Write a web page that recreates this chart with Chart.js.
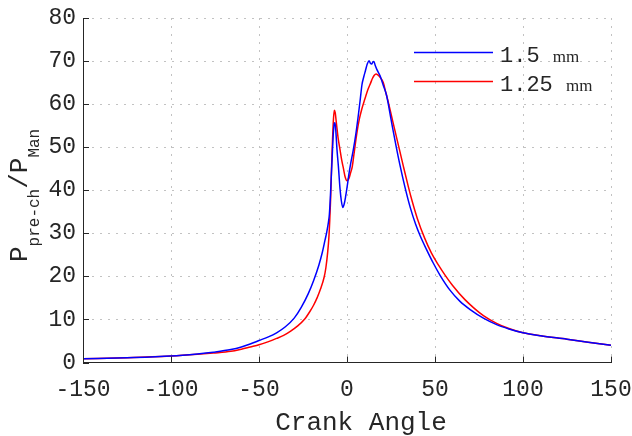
<!DOCTYPE html>
<html>
<head>
<meta charset="utf-8">
<script src="https://cdn.jsdelivr.net/npm/chart.js@4.4.1/dist/chart.umd.min.js"></script>
<style>
html, body { margin: 0; padding: 0; background: #fff; }
</style>
</head>
<body>
<canvas id="myChart" width="632" height="436"></canvas>
<script>
// crank angle / pressure ratio
const angle15 = [-150,-125,-100,-85,-76,-66,-60,-55,-50,-45,-40,-35,-30,-26,-22,-19,-16,-14,-12.5,-11.5,-10.5,-10,-9.5,-9,-8.5,-7.8,-7.2,-6.8,-6.3,-5.7,-4.9,-4,-3.2,-2.4,-1.6,-0.8,0,1,2,3.5,5,6.4,7.5,8.5,9.5,10.5,11.5,12.5,13.3,14,14.7,15.3,16,17,18.8,20.5,22.5,25,28,30,33,36,39,41.5,45,49,52.8,58.5,64.2,70,77.5,85,92,100,110,125,137,150]
const ratio15 = [0.85,1.1,1.5,2.0,2.4,3.0,3.6,4.3,5.1,5.9,6.9,8.3,10.3,12.8,16.0,19.0,22.6,25.6,28.4,30.3,32.7,34.5,38,42.5,47,53,55.5,55.7,53.5,49.5,45.6,40.5,37.5,36,36.8,38.5,40.6,43.5,46,49.2,53,57.3,61,64.5,66.3,67.8,69.3,70.1,69.5,69.3,69.8,69.9,69,68,66.6,64.5,62,56.5,50,46.0,40.6,35.9,32.1,29.5,26.4,23.1,20.3,16.8,14.2,12.3,10.3,8.8,7.8,6.9,6.2,5.4,4.7,4.0]

const angle125 = [-150,-125,-100,-85,-76,-66,-60,-55,-50,-45,-40,-36,-32,-28,-24,-21,-19,-17,-15,-13,-12,-11,-10.3,-9.8,-9.3,-8.8,-8.2,-7.7,-7.2,-6.7,-6,-5,-4,-3,-2,-1,0,1,2,3,4,5.5,7,8.5,10,12,13.5,14.5,15.5,16.5,17.5,18.5,20.6,22,23.5,26,29.7,32,34.8,37,40,44,48,52,55.7,60,67,72,77.5,85,92,100,110,125,137,150]
const ratio125 = [0.85,1.1,1.5,1.9,2.2,2.6,3.1,3.6,4.1,4.8,5.6,6.3,7.3,8.5,10.1,11.9,13.3,15.0,17.1,19.8,22,25.5,29,33,38,45,52,56.5,58.6,58,55.5,52,49.5,47,45,43,42.2,42.6,44,45.5,48.5,53,56.5,59,61,63.5,65,66,66.7,67,66.8,66.4,65,62.8,60.4,56,49.6,45.6,40.9,37.5,33.4,29.0,25.4,22.6,20.3,17.9,14.6,12.7,10.9,9.1,7.9,6.9,6.2,5.4,4.7,4.0]

const seriesNames = ['1.5 mm', '1.25 mm']
const xTicks = [-150,-100,-50,0,50,100,150]
const yTicks = [0,10,20,30,40,50,60,70,80]

const ink = '#262626'
const mono = '"Liberation Mono", "DejaVu Sans Mono", monospace'

function pts(xs, ys) {
  return xs.map((x, i) => ({x: x, y: ys[i]}))
}

// inward ticks, legend and axis titles
const extras = {
  id: 'extras',
  afterDraw(chart) {
    const ctx = chart.ctx
    const a = chart.chartArea
    const xs = chart.scales.x
    const ys = chart.scales.y
    ctx.save()
    ctx.strokeStyle = ink
    ctx.lineWidth = 1
    ctx.beginPath()
    xTicks.forEach(v => {
      const px = Math.round(xs.getPixelForValue(v)) + 0.5
      ctx.moveTo(px, a.bottom); ctx.lineTo(px, a.bottom - 6)
    })
    yTicks.forEach(v => {
      const py = Math.round(ys.getPixelForValue(v)) + 0.5
      ctx.moveTo(a.left, py); ctx.lineTo(a.left + 6, py)
    })
    ctx.stroke()

    // legend
    const cols = ['#0000ff', '#ff0000']
    const rowsY = [52.5, 81.5]
    seriesNames.forEach((name, i) => {
      ctx.strokeStyle = cols[i]
      ctx.lineWidth = 1.5
      ctx.beginPath()
      ctx.moveTo(414, rowsY[i]); ctx.lineTo(493, rowsY[i])
      ctx.stroke()
      const parts = name.split(' ')
      ctx.fillStyle = ink
      ctx.textBaseline = 'alphabetic'
      ctx.textAlign = 'left'
      ctx.font = '22px ' + mono
      const head = parts[0] + ' '
      ctx.fillText(head, 500, rowsY[i] + 9.5)
      const w = ctx.measureText(head).width
      ctx.font = '17px "Liberation Serif", serif'
      ctx.fillText(parts[1], 500 + w, rowsY[i] + 9.5)
    })

    // x title
    ctx.fillStyle = ink
    ctx.font = '26px ' + mono
    ctx.textAlign = 'center'
    ctx.fillText('Crank Angle', 361, 430)

    // y title with subscripts
    ctx.translate(27, 262)
    ctx.rotate(-Math.PI / 2)
    ctx.textAlign = 'left'
    let x = 0
    const put = (txt, size, dy) => {
      ctx.font = size + 'px ' + mono
      ctx.fillText(txt, x, dy)
      x += ctx.measureText(txt).width
    }
    put('P', 26, 0)
    put('pre-ch', 16, 12)
    put('/', 26, 0)
    put('P', 26, 0)
    put('Man', 16, 12)
    ctx.restore()
  }
}

const ctx = document.getElementById('myChart')
const myChart = new Chart(ctx, {
  type: 'line',
  data: {
    datasets: [
      {
        label: seriesNames[0],
        data: pts(angle15, ratio15),
        borderColor: '#0000ff',
        borderWidth: 1.5,
        pointRadius: 0,
        cubicInterpolationMode: 'monotone',
        fill: false
      },
      {
        label: seriesNames[1],
        data: pts(angle125, ratio125),
        borderColor: '#ff0000',
        borderWidth: 1.5,
        pointRadius: 0,
        cubicInterpolationMode: 'monotone',
        fill: false
      }
    ]
  },
  options: {
    responsive: false,
    animation: false,
    events: [],
    layout: { padding: { left: 0, right: 0, top: 18, bottom: 0 } },
    plugins: {
      legend: { display: false },
      tooltip: { enabled: false }
    },
    scales: {
      x: {
        type: 'linear',
        min: -150,
        max: 150,
        afterBuildTicks: s => { s.ticks = xTicks.map(v => ({value: v})) },
        afterFit: s => { s.height = 73.5; s.paddingRight = 21; s.paddingLeft = 0 },
        grid: { color: '#c2c2c2', drawTicks: false },
        border: { display: true, color: ink, width: 1, dash: [2, 6] },
        ticks: { color: ink, font: { family: mono, size: 23 }, padding: 14, maxRotation: 0 }
      },
      y: {
        min: 0,
        max: 80,
        afterBuildTicks: s => { s.ticks = yTicks.map(v => ({value: v})) },
        afterFit: s => { s.width = 83; s.paddingTop = 0; s.paddingBottom = 0 },
        grid: { color: '#c2c2c2', drawTicks: false },
        border: { display: true, color: ink, width: 1, dash: [2, 6] },
        ticks: { color: ink, font: { family: mono, size: 23 }, padding: 7 }
      }
    }
  },
  plugins: [extras]
})
</script>
</body>
</html>
